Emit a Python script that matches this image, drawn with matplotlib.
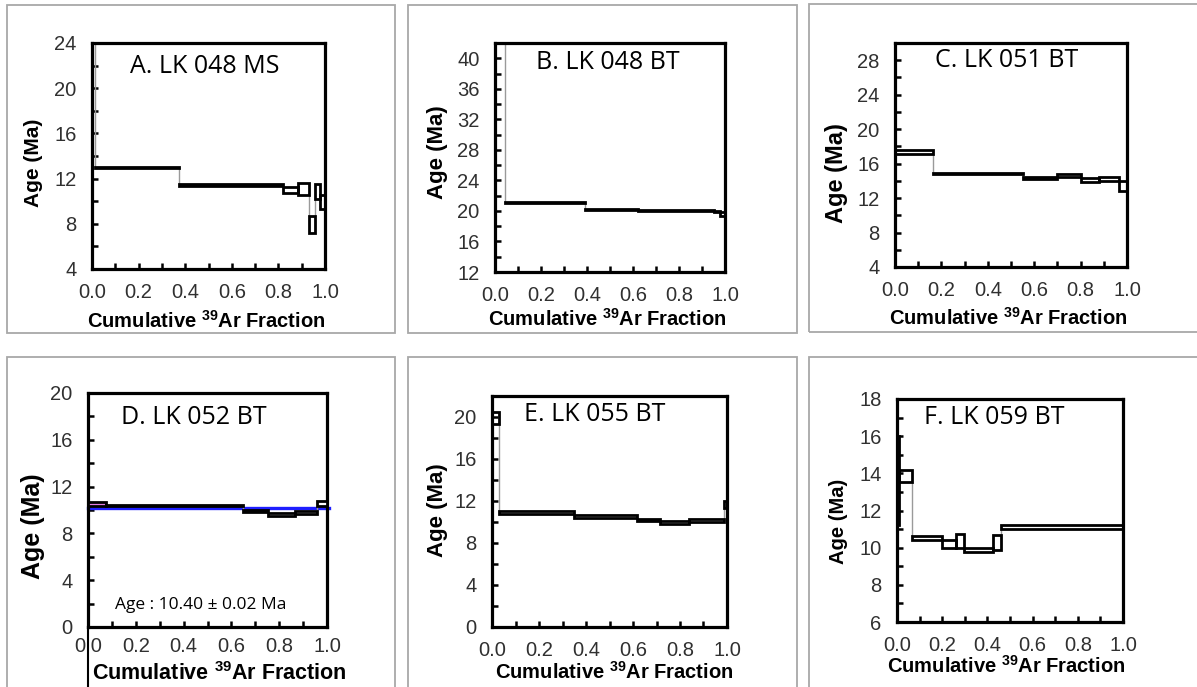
import matplotlib
matplotlib.use("Agg")
import matplotlib.pyplot as plt
from matplotlib.patches import Rectangle
from matplotlib.ticker import MultipleLocator

plt.rcParams['font.family'] = 'Liberation Sans'
plt.rcParams['mathtext.fontset'] = 'custom'
plt.rcParams['mathtext.rm'] = 'Liberation Sans'
plt.rcParams['mathtext.bf'] = 'Liberation Sans:bold'

# step boundaries (cumulative 39Ar fraction), apparent ages and 1-sigma errors (Ma)
a_frac = [0, 0.012, 0.375, 0.82, 0.885, 0.93, 0.955, 0.98, 1.0]
a_age = [30, 13.0, 11.45, 11.0, 11.1, 7.95, 10.85, 9.95]
a_err = [2, 0.07, 0.07, 0.25, 0.55, 0.75, 0.65, 0.6]

b_frac = [0, 0.045, 0.39, 0.62, 0.95, 0.98, 1.0]
b_age = [60, 21.05, 20.2, 20.05, 19.9, 19.6]
b_err = [3, 0.06, 0.05, 0.05, 0.08, 0.2]

c_frac = [0, 0.165, 0.55, 0.70, 0.80, 0.88, 0.964, 1.0]
c_age = [17.3, 14.87, 14.37, 14.6, 14.1, 14.23, 13.4]
c_err = [0.23, 0.08, 0.1, 0.18, 0.2, 0.25, 0.58]

d_frac = [0, 0.074, 0.65, 0.755, 0.867, 0.958, 1.0]
d_age = [10.54, 10.36, 9.89, 9.63, 9.8, 10.57]
d_err = [0.17, 0.05, 0.09, 0.12, 0.1, 0.23]
d_plateau = 10.2

e_frac = [0, 0.028, 0.347, 0.617, 0.713, 0.837, 0.986, 1.0]
e_age = [19.9, 10.88, 10.5, 10.2, 9.92, 10.18, 11.68]
e_err = [0.6, 0.14, 0.14, 0.12, 0.14, 0.14, 0.3]

f_frac = [0, 0.008, 0.066, 0.2, 0.26, 0.295, 0.425, 0.46, 1.0]
f_age = [13.6, 13.85, 10.52, 10.18, 10.35, 9.87, 10.29, 11.1]
f_err = [2.4, 0.33, 0.1, 0.22, 0.38, 0.13, 0.39, 0.1]

titles = ["A. LK 048 MS", "B. LK 048 BT", "C. LK 051 BT",
          "D. LK 052 BT", "E. LK 055 BT", "F. LK 059 BT"]

W, H = 1197, 687
fig = plt.figure(figsize=(W / 100, H / 100), dpi=100)


def px_axes(l, t, r, b):
    return fig.add_axes([l / W, (H - b) / H, (r - l) / W, (b - t) / H])


def frame(l, t, r, b):
    fig.patches.append(Rectangle((l / W, (H - b) / H), (r - l) / W, (b - t) / H,
                                 transform=fig.transFigure, fill=False,
                                 edgecolor='#a8a8a8', lw=1.3))


# grey panel frames
frame(7, 5, 395, 333)
frame(408, 5, 797, 333)
frame(809, 4, 1200, 332)
frame(7, 357, 395, 700)
frame(408, 357, 797, 700)
frame(809, 357, 1200, 700)


def spectrum(ax, frac, age, err, fills=None):
    n = len(age)
    for i in range(n - 1):
        x = frac[i + 1]
        if age[i + 1] < age[i]:
            y0, y1 = age[i] - err[i], age[i + 1] + err[i + 1]
        else:
            y0, y1 = age[i] + err[i], age[i + 1] - err[i + 1]
        ax.plot([x, x], [y0, y1], color='#9a9a9a', lw=1.0, zorder=2)
    for i in range(n):
        fc = fills[i] if fills else 'none'
        ax.add_patch(Rectangle((frac[i], age[i] - err[i]), frac[i + 1] - frac[i],
                               2 * err[i], facecolor=fc, edgecolor='black',
                               lw=2.0, zorder=3))


def style(ax, ylim, major, minor, title, tpos, ylab_size, ylab_pos,
          xlab_size, xlab_pos):
    ax.set_xlim(0, 1)
    ax.set_ylim(*ylim)
    ax.xaxis.set_major_locator(MultipleLocator(0.2))
    ax.xaxis.set_minor_locator(MultipleLocator(0.1))
    ax.yaxis.set_major_locator(MultipleLocator(major))
    ax.yaxis.set_minor_locator(MultipleLocator(minor))
    ax.xaxis.set_major_formatter(plt.FuncFormatter(lambda v, p: f"{v:.1f}"))
    ax.tick_params(which='both', direction='in', length=4, width=1.8,
                   top=False, right=False, labelsize=14.5, colors='black',
                   labelcolor='#303030')
    ax.tick_params(axis='x', pad=10)
    ax.tick_params(axis='y', pad=11)
    for s in ax.spines.values():
        s.set_linewidth(2.3)
    ax.text(tpos[0], tpos[1], title, transform=ax.transAxes, ha='center',
            va='center', fontsize=18, family='Open Sans')
    ax.set_ylabel("Age (Ma)", fontsize=ylab_size, fontweight='bold', va='center')
    ax.yaxis.set_label_coords(*ylab_pos)
    ax.set_xlabel(r"Cumulative $^{\mathbf{39}}$Ar Fraction", fontsize=xlab_size,
                  fontweight='bold', va='center')
    ax.xaxis.set_label_coords(*xlab_pos)


axA = px_axes(92, 43, 325, 269)
spectrum(axA, a_frac, a_age, a_err)
style(axA, (4, 24), 4, 2, titles[0], (0.485, 0.894), 15, (-0.253, 0.469),
      14.5, (0.49, -0.23))

axB = px_axes(495, 43, 725, 272)
spectrum(axB, b_frac, b_age, b_err)
style(axB, (12, 42), 4, 2, titles[1], (0.489, 0.917), 16, (-0.252, 0.524),
      14.5, (0.486, -0.205))

axC = px_axes(895, 43, 1127, 267)
spectrum(axC, c_frac, c_age, c_err)
style(axC, (4, 30), 4, 2, titles[2], (0.483, 0.92), 17, (-0.25, 0.42),
      14.5, (0.487, -0.228))

axD = px_axes(88, 393, 327, 627)
axD.plot([0, 1.01], [d_plateau, d_plateau], color='#1f1fff', lw=2.4, zorder=2,
         clip_on=False)
spectrum(axD, d_frac, d_age, d_err,
         fills=['#e27ee2', 'none', 'none', 'none', 'none', 'white'])
style(axD, (0, 20), 4, 2, titles[3], (0.444, 0.897), 18, (-0.23, 0.43),
      15.5, (0.548, -0.2))
axD.tick_params(axis='x', pad=7)
axD.text(0.473, 0.094, "Age : 10.40 \u00b1 0.02 Ma", transform=axD.transAxes,
         ha='center', va='center', fontsize=12.5, family='Open Sans')
axD.plot([0, 0], [0, -0.3], transform=axD.transAxes, color='black', lw=1.5,
         clip_on=False)

axE = px_axes(492, 396, 727, 627)
spectrum(axE, e_frac, e_age, e_err)
style(axE, (0, 22), 4, 2, titles[4], (0.438, 0.918), 16, (-0.234, 0.506),
      14.5, (0.52, -0.195))

axF = px_axes(897, 399, 1123, 622)
spectrum(axF, f_frac, f_age, f_err)
style(axF, (6, 18), 2, 1, titles[5], (0.43, 0.919), 14.5, (-0.257, 0.453),
      14.5, (0.482, -0.195))

fig.savefig("out.png", dpi=100)
